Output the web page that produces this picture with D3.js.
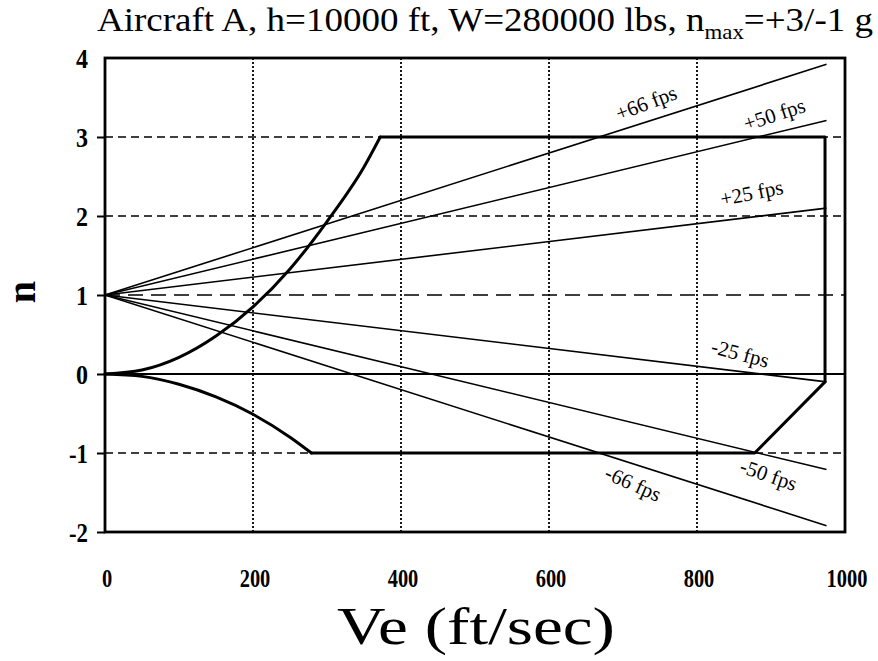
<!DOCTYPE html>
<html><head><meta charset="utf-8">
<script src="https://cdn.jsdelivr.net/npm/d3@7"></script>
<style>body{margin:0;background:#fff}svg{display:block}</style>
</head><body><svg id="c" width="878" height="661"></svg>
<script>
// ---- data ----
const xTicks = [0, 200, 400, 600, 800, 1000];
const yTicks = [-2, -1, 0, 1, 2, 3, 4];
const gustNames = ["+66 fps", "+50 fps", "+25 fps", "-25 fps", "-50 fps", "-66 fps"];
const gustStartV = 0, gustEndV = 975;
const gustStartN = [1, 1, 1, 1, 1, 1];
const gustEndN = [3.92, 3.21, 2.10, -0.10, -1.21, -1.92];
const posStallV = [0, 50, 100, 150, 200, 250, 300, 350, 372];
const posStallN = [0, 0.05, 0.21, 0.48, 0.85, 1.33, 1.93, 2.62, 3.0];
const envV = [372, 973, 973, 878, 279];
const envN = [3, 3, -0.1, -1, -1];
const negStallV = [0, 50, 100, 150, 200, 250, 279];
const negStallN = [0, -0.03, -0.13, -0.29, -0.51, -0.80, -1];
const labelV = [740, 912, 880, 852, 905, 724];
const labelRot = [-21, -18, -11, 15, 19, 24];

// ---- layout ----
const L = 105, R = 845, T = 58, B = 532;
const svg = d3.select("#c");
const x = d3.scaleLinear().domain([0, 1000]).range([L, R]);
const y = d3.scaleLinear().domain([-2, 4]).range([B, T]);
const serif = "Liberation Serif, Times New Roman, serif";

// grid
svg.append("g").selectAll("line").data([200, 400, 600, 800]).join("line")
  .attr("x1", d => x(d)).attr("x2", d => x(d)).attr("y1", T).attr("y2", B)
  .attr("stroke", "#000").attr("stroke-width", 1.8).attr("stroke-dasharray", "2,2");
svg.append("g").selectAll("line").data([3, 2, -1]).join("line")
  .attr("x1", L).attr("x2", R).attr("y1", d => y(d)).attr("y2", d => y(d))
  .attr("stroke", "#000").attr("stroke-width", 1.7).attr("stroke-dasharray", "8,5");
svg.append("line").attr("x1", L).attr("x2", R).attr("y1", y(1)).attr("y2", y(1))
  .attr("stroke", "#000").attr("stroke-width", 1.7).attr("stroke-dasharray", "15,8");
svg.append("line").attr("x1", L).attr("x2", R).attr("y1", y(0)).attr("y2", y(0))
  .attr("stroke", "#000").attr("stroke-width", 2);

// gust lines
const gustSlope = gustNames.map((g, i) => (gustEndN[i] - gustStartN[i]) / (gustEndV - gustStartV));
svg.append("g").selectAll("line").data(gustNames).join("line")
  .attr("x1", x(gustStartV)).attr("y1", (d, i) => y(gustStartN[i]))
  .attr("x2", x(gustEndV)).attr("y2", (d, i) => y(gustEndN[i]))
  .attr("stroke", "#000").attr("stroke-width", 1.6);

// envelope
const pt = (vs, ns) => vs.map((v, i) => [v, ns[i]]);
const curve = d3.line().x(d => x(d[0])).y(d => y(d[1])).curve(d3.curveMonotoneX);
const poly = d3.line().x(d => x(d[0])).y(d => y(d[1]));
const envStyle = sel => sel.attr("fill", "none").attr("stroke", "#000").attr("stroke-width", 3)
  .attr("stroke-linejoin", "round").attr("stroke-linecap", "round");
svg.append("path").attr("d", curve(pt(posStallV, posStallN))).call(envStyle);
svg.append("path").attr("d", curve(pt(negStallV, negStallN))).call(envStyle);
svg.append("path").attr("d", poly(pt(envV, envN))).call(envStyle);

// gust labels
svg.append("g").selectAll("text").data(gustNames).join("text")
  .attr("transform", (d, i) => {
    const v = labelV[i];
    const n = gustStartN[i] + gustSlope[i] * (v - gustStartV);
    return `translate(${x(v)},${y(n)}) rotate(${labelRot[i]})`;
  })
  .attr("dy", (d, i) => (i === 2 ? -17 : (i < 4 ? -11 : 26)))
  .attr("text-anchor", "middle")
  .attr("font-family", serif).attr("font-size", 21)
  .text(d => d);

// frame
svg.append("rect").attr("x", L).attr("y", T).attr("width", R - L).attr("height", B - T)
  .attr("fill", "none").attr("stroke", "#000").attr("stroke-width", 2.8);

// y axis ticks
const yAxis = d3.axisLeft(y).tickValues(yTicks.filter(d => d < 4)).tickSize(8).tickFormat("");
const yg = svg.append("g").attr("transform", `translate(${L},0)`).call(yAxis);
yg.select(".domain").remove();
yg.selectAll(".tick line").attr("stroke-width", 2);

const digitW = s => String(s).split("").reduce((a, c) => a + (c === "-" ? 7 : 12), 0);
svg.append("g").selectAll("text").data(yTicks).join("text")
  .attr("x", 88).attr("y", d => y(d)).attr("dy", "0.35em")
  .attr("text-anchor", "end").attr("font-family", serif).attr("font-weight", "bold")
  .attr("font-size", 28).attr("textLength", d => digitW(d)).attr("lengthAdjust", "spacingAndGlyphs")
  .text(d => d);

// x axis labels
svg.append("g").selectAll("text").data(xTicks).join("text")
  .attr("x", d => x(d) + 2).attr("y", 587)
  .attr("text-anchor", "middle").attr("font-family", serif).attr("font-weight", "bold")
  .attr("font-size", 25).attr("textLength", d => digitW(d) * 0.85).attr("lengthAdjust", "spacingAndGlyphs")
  .text(d => d);

// titles
const title = svg.append("text").attr("x", 97).attr("y", 31)
  .attr("font-family", serif).attr("font-size", 34)
  .attr("textLength", 776).attr("lengthAdjust", "spacingAndGlyphs");
title.append("tspan").text("Aircraft A, h=10000 ft, W=280000 lbs, n");
title.append("tspan").attr("font-size", 21).attr("dy", 8).text("max");
title.append("tspan").attr("dy", -8).text("=+3/-1 g");

svg.append("text").attr("x", 337).attr("y", 644)
  .attr("font-family", serif).attr("font-size", 52)
  .attr("textLength", 278).attr("lengthAdjust", "spacingAndGlyphs").text("Ve (ft/sec)");
svg.append("text").attr("transform", "translate(35,292) rotate(-90)").attr("text-anchor", "middle")
  .attr("font-family", serif).attr("font-weight", "bold").attr("font-size", 40).text("n");
</script></body></html>
